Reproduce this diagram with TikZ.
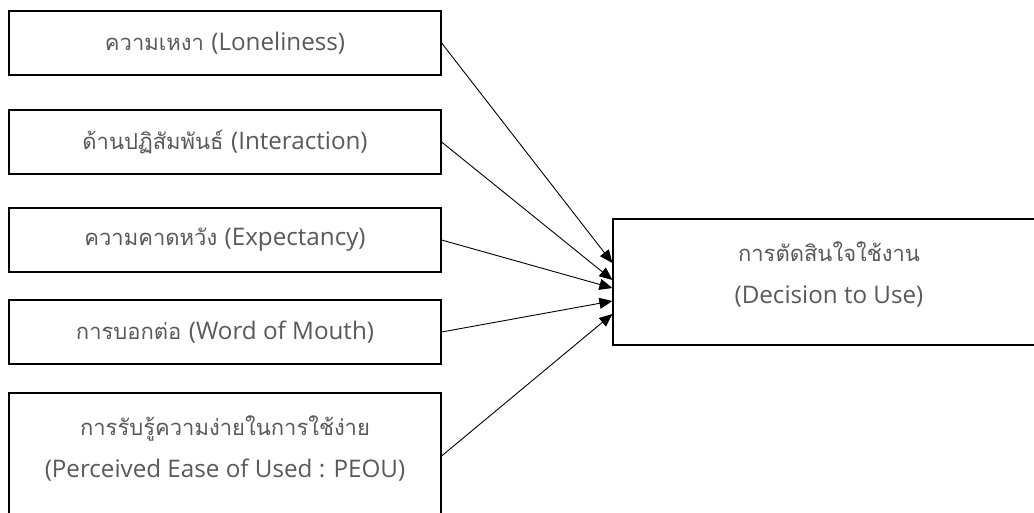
\documentclass[tikz,border=0pt]{standalone}
\usepackage{fontspec}
\setmainfont{Loma}[Script=Thai]
\newfontfamily\lat{Open Sans}[Scale=1.1]
\usetikzlibrary{arrows.meta}
\definecolor{txt}{HTML}{595959}
\begin{document}
\begin{tikzpicture}[x=1pt,y=-1pt,
  box/.style={draw=black,line width=1.2pt,minimum width=432pt,inner sep=0pt,
    text=txt,align=center,font=\fontsize{22}{42}\selectfont},
  sbox/.style={box,minimum height=64pt},
  tbox/.style={box,minimum height=126pt,text depth=19pt},
  link/.style={line width=0.9pt,-{Triangle[length=13pt,width=11pt]}}]
\useasboundingbox (0,0) rectangle (1034,513);
\clip (0,0) rectangle (1034,513);
\node[sbox] (b1) at (225,43) {ความเหงา {\lat (Loneliness)}};
\node[sbox] (b2) at (225,142) {ด้านปฏิสัมพันธ์ {\lat (Interaction)}};
\node[sbox] (b3) at (225,240) {ความคาดหวัง {\lat (Expectancy)}};
\node[sbox] (b4) at (225,332) {การบอกต่อ {\lat (Word of Mouth)}};
\node[tbox] (b5) at (225,456) {การรับรู้ความง่ายในการใช้ง่าย\\{\lat (Perceived Ease of Used : PEOU)}};
\node[tbox] (r) at (829,282) {การตัดสินใจใช้งาน\\{\lat (Decision to Use)}};
\draw[link] (b1.east) -- ([yshift=19pt]r.west);
\draw[link] (b2.east) -- ([yshift=2pt]r.west);
\draw[link] (b3.east) -- ([yshift=-6pt]r.west);
\draw[link] (b4.east) -- ([yshift=-19pt]r.west);
\draw[link] (b5.east) -- ([yshift=-32pt]r.west);
\end{tikzpicture}
\end{document}
